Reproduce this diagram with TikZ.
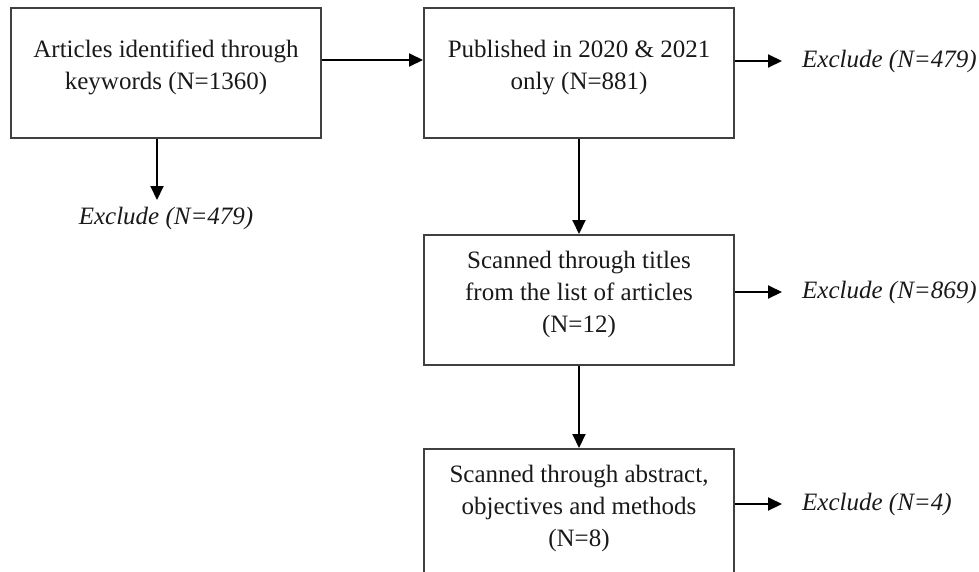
\documentclass[tikz,border=0pt]{standalone}
\usepackage{fontspec}
\setmainfont{Liberation Serif}
\usetikzlibrary{arrows.meta, positioning}

\begin{document}
\begin{tikzpicture}[
        x=1pt, y=-1pt,
        node distance=100pt,
        box/.style={draw=black!75, line width=2pt, minimum width=310pt, minimum height=130pt, inner sep=0pt},
        boxtext/.style={align=center, anchor=north, inner sep=0pt, text=black!90, font=\fontsize{25}{32}\selectfont},
        excl/.style={inner xsep=20pt, inner ysep=0pt, text=black!90, font=\fontsize{25}{30}\selectfont\itshape},
        arrow/.style={-{Triangle[length=14pt, width=13pt]}, line width=2pt}
    ]
    \useasboundingbox (0,0) rectangle (979,571);
    \clip (0,0) rectangle (979,571);
    % screening steps
    \node[box, label={[boxtext, yshift=-33pt]north:{Articles identified through\\keywords (N=1360)}}] (keys) at (166,73) {};
    \node[box, right=101pt of keys, label={[boxtext, yshift=-33pt]north:{Published in 2020 \& 2021\\only (N=881)}}] (pub) {};
    \node[box, below=95pt of pub, label={[boxtext, yshift=-17pt]north:{Scanned through titles\\from the list of articles\\(N=12)}}] (titles) {};
    \node[box, below=82pt of titles, label={[boxtext, yshift=-17pt]north:{Scanned through abstract,\\objectives and methods\\(N=8)}}] (abs) {};
    % exclusions
    \node[excl, below=68pt of keys] (exKeys) {Exclude (N=479)};
    \node[excl, anchor=west] (exPub) at ([xshift=47pt, yshift=12pt]pub.east) {Exclude (N=479)};
    \node[excl, anchor=west] (exTitles) at ([xshift=47pt, yshift=8pt]titles.east) {Exclude (N=869)};
    \node[excl, anchor=west] (exAbs) at ([xshift=47pt, yshift=10pt]abs.east) {Exclude (N=4)};
    \draw[arrow] ([yshift=13pt]keys.east) -- ([yshift=13pt]pub.west);
    \draw[arrow] (pub) -- (titles);
    \draw[arrow] (titles) -- (abs);
    \draw[arrow] ([xshift=-9pt]keys.south) -- ([xshift=-9pt, yshift=7pt]exKeys.north);
    \draw[arrow] (pub.east |- exPub.west) -- (exPub.west);
    \draw[arrow] (titles.east |- exTitles.west) -- (exTitles.west);
    \draw[arrow] (abs.east |- exAbs.west) -- (exAbs.west);
\end{tikzpicture}
\end{document}
